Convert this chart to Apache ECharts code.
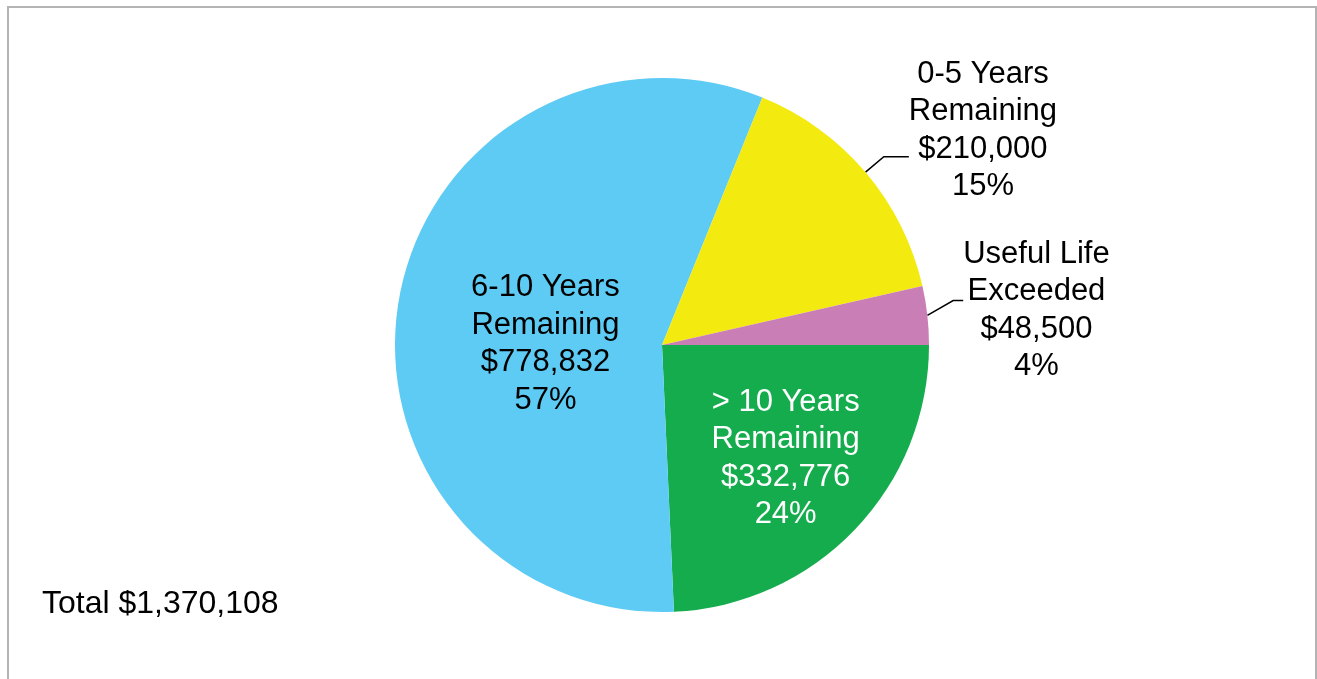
<!DOCTYPE html>
<html>
<head>
<meta charset="utf-8">
<style>
  html, body { margin: 0; padding: 0; background: #ffffff; }
  #chart { width: 1317px; height: 679px; }
</style>
<script src="https://cdn.jsdelivr.net/npm/echarts@6/dist/echarts.min.js"></script>
</head>
<body>
<div id="chart"></div>
<script>
// Asset value grouped by remaining useful life
const categories = ['> 10 Years Remaining', '6-10 Years Remaining', '0-5 Years Remaining', 'Useful Life Exceeded'];
const values = [332776, 778832, 210000, 48500];
const sliceColors = ['#14AC4C', '#5DCBF4', '#F3EA10', '#CA7EB6'];
const labelColors = ['#ffffff', '#000000', '#000000', '#000000'];
const outsideSlices = [false, false, true, true];

const FONT = '"Liberation Sans", Arial, Helvetica, sans-serif';
const LABEL_SIZE = 31;
const LINE_H = 37.5;

const money = v => '$' + v.toLocaleString('en-US');
const total = values.reduce((a, b) => a + b, 0);

// break the category name before its last word
function nameLines(name) {
  const i = name.lastIndexOf(' ');
  return [name.slice(0, i), name.slice(i + 1)];
}

const data = categories.map((name, i) => ({
  name: name,
  value: values[i],
  itemStyle: { color: sliceColors[i] },
  label: {
    position: outsideSlices[i] ? 'outside' : 'inside',
    rich: { c: { align: 'center', color: labelColors[i], fontSize: LABEL_SIZE, lineHeight: LINE_H, fontFamily: FONT } }
  },
  labelLine: outsideSlices[i]
    ? { show: true, length: i === 2 ? 24 : 26, length2: i === 2 ? 25 : 10, lineStyle: { color: '#000000', width: 1.5 } }
    : { show: false }
}));

const chart = echarts.init(document.getElementById('chart'), null, { renderer: 'canvas' });

chart.setOption({
  animation: false,
  backgroundColor: '#ffffff',
  title: {
    text: 'Total ' + money(total),
    left: 42,
    top: 588,
    padding: 0,
    textStyle: { fontFamily: FONT, fontSize: 32, fontWeight: 'normal', color: '#000000' }
  },
  graphic: [{
    type: 'rect',
    silent: true,
    shape: { x: 8, y: 7, width: 1308, height: 700 },
    style: { fill: 'none', stroke: '#b4b4b4', lineWidth: 2 }
  }],
  series: [{
    type: 'pie',
    center: [662, 345],
    radius: [0, 267],
    startAngle: 0,
    clockwise: true,
    avoidLabelOverlap: false,
    minShowLabelAngle: 0,
    label: {
      show: true,
      distanceToLabelLine: 0,
      formatter: p => {
        const lines = nameLines(p.name).concat([money(p.value), Math.round(p.percent) + '%']);
        return lines.map(t => '{c|' + t + '}').join('\n');
      }
    },
    labelLayout: p => {
      const pts = p.labelLinePoints;
      if (p.dataIndex === 0) return { dx: 25, dy: 19 };
      if (p.dataIndex === 1) return { dx: 18, dy: 22 };
      if (p.dataIndex === 2) return { dy: -26, labelLinePoints: pts };
      if (p.dataIndex === 3 && pts) {
        const lifted = [pts[0], [pts[1][0], pts[1][1] - 12], [pts[2][0], pts[2][1] - 12]];
        return { dy: -2, labelLinePoints: lifted };
      }
      return {};
    },
    data: data
  }]
});
</script>
</body>
</html>
